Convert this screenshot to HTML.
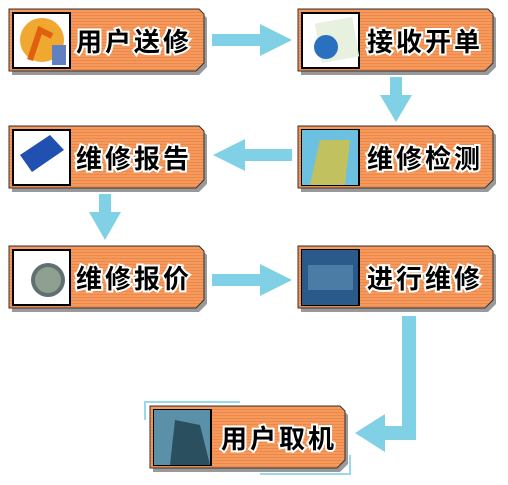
<!DOCTYPE html>
<html><head><meta charset="utf-8"><style>
body{margin:0;background:#fff;}
svg text{font-family:"Liberation Sans","Noto Sans CJK SC",sans-serif;font-weight:bold;font-size:26px;fill:#000;stroke:#fff;stroke-width:4px;paint-order:stroke;letter-spacing:3px}
</style></head><body>
<svg width="508" height="480" xmlns="http://www.w3.org/2000/svg">
<defs>
<pattern id="st" width="4" height="3" patternUnits="userSpaceOnUse">
<rect width="4" height="3" fill="#f49a5c"/><rect width="4" height="1" fill="#f0874a"/>
</pattern>
<g id="box">
<path d="M3,4 H193 L198,9 V58 L190,66 H3 Z" fill="#999" />
<path d="M0,0 H190 L195,5 V54 L187,62 H0 Z" fill="url(#st)" stroke="#333" stroke-width="1"/>
<rect x="4" y="4" width="57" height="55" fill="#fff" stroke="#000" stroke-width="2"/>
</g>
</defs>
<g fill="#80d0e6">
<path d="M212,34 H260 V24 L292,40 L260,56 V46 H212 Z"/>
<path d="M390,77 V95 H380 L396,122 L412,95 H402 V77 Z"/>
<path d="M292,149 H245 V139 L213,155 L245,171 V161 H292 Z"/>
<path d="M99,194 V212 H89 L105,240 L121,212 H111 V194 Z"/>
<path d="M212,274 H260 V264 L292,280 L260,296 V286 H212 Z"/>
<path d="M402,316 H416 V440 H385 V452 L355,433 L385,414 V426 H402 Z"/>
</g>
<path d="M145,420 V402 H240" stroke="#9ad8ec" stroke-width="2" fill="none"/>
<path d="M350,455 V474 H260" stroke="#9ad8ec" stroke-width="2" fill="none"/>
<use href="#box" x="9" y="9"/>
<use href="#box" x="298" y="9"/>
<use href="#box" x="9" y="126"/>
<use href="#box" x="298" y="126"/>
<use href="#box" x="9" y="246"/>
<use href="#box" x="298" y="246"/>
<use href="#box" x="150" y="406"/>
<circle cx="42" cy="40" r="22" fill="#f0a830"/><path d="M30,60 L40,30 L52,36" stroke="#e06010" stroke-width="6" fill="none"/><rect x="52" y="45" width="14" height="20" fill="#6080c0"/>
<rect x="318" y="20" width="38" height="40" fill="#e8f0e0" transform="rotate(-10 337 40)"/><circle cx="326" cy="47" r="12" fill="#2a70c0"/>
<path d="M20,155 L50,135 L64,150 L32,172 Z" fill="#2050b0"/>
<rect x="302" y="130" width="56" height="55" fill="#6cc0e0"/><path d="M310,185 L320,140 L350,140 L345,185" fill="#d8c040" opacity=".8"/>
<circle cx="48" cy="280" r="17" fill="#607070"/><circle cx="48" cy="280" r="13" fill="#90a090"/>
<rect x="302" y="250" width="56" height="55" fill="#2a5a8a"/><rect x="308" y="265" width="45" height="25" fill="#5a8ab0" opacity=".7"/>
<rect x="154" y="410" width="56" height="55" fill="#5a90a8"/><path d="M170,465 L175,420 L200,425 L210,465Z" fill="#2a5060"/>
<text x="76" y="51">用户送修</text>
<text x="367" y="51">接收开单</text>
<text x="76" y="168">维修报告</text>
<text x="367" y="168">维修检测</text>
<text x="76" y="288">维修报价</text>
<text x="367" y="288">进行维修</text>
<text x="221" y="448">用户取机</text>
</svg>
</body></html>
